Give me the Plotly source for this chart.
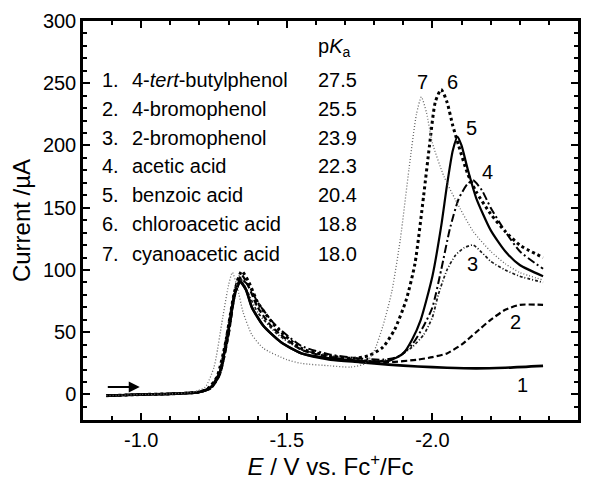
import plotly.graph_objects as go

# ---------------- data ----------------
names = ["4-<i>tert</i>-butylphenol", "4-bromophenol", "2-bromophenol", "acetic acid",
         "benzoic acid", "chloroacetic acid", "cyanoacetic acid"]
pka = ["27.5", "25.5", "23.9", "22.3", "20.4", "18.8", "18.0"]

E1 = [-0.88, -1.0, -1.1, -1.2, -1.24, -1.27, -1.30, -1.32, -1.34, -1.36, -1.38, -1.42, -1.48, -1.55, -1.65, -1.75, -1.85, -1.95, -2.05, -2.15, -2.25, -2.38]
I1 = [-1, 0, 0.5, 2, 6, 18, 52, 80, 91, 84, 70, 55, 42, 33, 28, 26, 24, 22.5, 21.5, 21, 21.5, 23]

E2 = [-0.88, -1.0, -1.1, -1.2, -1.24, -1.27, -1.30, -1.32, -1.345, -1.37, -1.40, -1.45, -1.55, -1.65, -1.75, -1.85, -1.95, -2.0, -2.05, -2.1, -2.15, -2.2, -2.25, -2.3, -2.38]
I2 = [-1, 0, 0.5, 2, 5, 16, 48, 78, 96, 86, 70, 54, 36, 30, 27, 26, 28, 30, 33, 40, 50, 60, 68, 72, 72]

E3 = [-0.88, -1.0, -1.1, -1.2, -1.24, -1.27, -1.30, -1.335, -1.36, -1.40, -1.47, -1.55, -1.65, -1.75, -1.82, -1.88, -1.93, -1.97, -2.0, -2.02, -2.05, -2.08, -2.11, -2.14, -2.17, -2.2, -2.25, -2.3, -2.38]
I3 = [-1, 0, 0.5, 2, 6, 20, 58, 95, 85, 66, 48, 36, 31, 28, 27, 30, 38, 48, 62, 80, 100, 112, 118, 120, 114, 107, 100, 95, 90]

E4 = [-0.88, -1.0, -1.1, -1.2, -1.24, -1.27, -1.30, -1.32, -1.34, -1.37, -1.40, -1.46, -1.55, -1.65, -1.75, -1.83, -1.88, -1.93, -1.97, -2.0, -2.03, -2.06, -2.09, -2.12, -2.14, -2.17, -2.2, -2.25, -2.3, -2.38]
I4 = [-1, 0, 0.5, 2, 5, 16, 48, 78, 93, 87, 74, 56, 39, 32, 29, 28, 30, 40, 55, 70, 100, 133, 157, 169, 172, 164, 150, 131, 115, 101]

E5 = [-0.88, -1.0, -1.1, -1.2, -1.24, -1.27, -1.30, -1.32, -1.34, -1.36, -1.38, -1.42, -1.48, -1.55, -1.65, -1.75, -1.85, -1.9, -1.93, -1.96, -2.0, -2.03, -2.05, -2.07, -2.086, -2.1, -2.12, -2.15, -2.2, -2.25, -2.3, -2.38]
I5 = [-1, 0, 0.5, 2, 6, 18, 52, 80, 90, 84, 70, 55, 42, 33, 29, 27, 27, 33, 44, 60, 95, 135, 168, 196, 207, 200, 182, 158, 132, 115, 104, 95]

E6 = [-0.88, -1.0, -1.1, -1.2, -1.23, -1.26, -1.29, -1.32, -1.345, -1.37, -1.40, -1.46, -1.55, -1.65, -1.72, -1.78, -1.83, -1.87, -1.91, -1.94, -1.97, -1.99, -2.01, -2.03, -2.05, -2.07, -2.09, -2.12, -2.15, -2.2, -2.25, -2.3, -2.38]
I6 = [-1, 0, 0.5, 2, 5, 14, 42, 82, 99, 90, 74, 55, 37, 31, 29, 31, 38, 52, 76, 105, 160, 200, 235, 245, 235, 216, 200, 178, 163, 145, 131, 120, 110]

E7 = [-0.88, -1.0, -1.1, -1.18, -1.22, -1.25, -1.28, -1.30, -1.313, -1.33, -1.35, -1.38, -1.42, -1.5, -1.55, -1.65, -1.72, -1.77, -1.8, -1.83, -1.86, -1.89, -1.92, -1.945, -1.962, -1.98, -2.0, -2.04, -2.08, -2.14, -2.2, -2.25, -2.3, -2.38]
I7 = [-1, 0, 0.5, 2, 6, 22, 62, 88, 98, 86, 66, 48, 37, 28, 25, 23, 22, 25, 35, 55, 82, 125, 182, 225, 239, 226, 202, 175, 156, 131, 115, 105, 98, 92]

curve_labels = ["1", "2", "3", "4", "5", "6", "7"]
label_E = [-2.309, -2.285, -2.137, -2.189, -2.134, -2.069, -1.966]
label_I = [8, 58, 105, 179, 214, 251, 251]

x_ticks = [-1.0, -1.5, -2.0, -2.5]
x_ticktext = ["-1.0", "-1.5", "-2.0", "-2.5"]
y_ticks = [0, 50, 100, 150, 200, 250, 300]

# ---------------- styles ----------------
styles = [
    dict(color="black", width=2.6, dash="solid"),
    dict(color="black", width=2.2, dash="6px,3px"),
    dict(color="#1a1a1a", width=1.7, dash="3px,2px,1px,2px"),
    dict(color="black", width=2.0, dash="8px,3px,2px,3px"),
    dict(color="black", width=2.2, dash="solid"),
    dict(color="black", width=3.0, dash="3px,3px"),
    dict(color="#666666", width=1.3, dash="1px,2px"),
]

FONT = "Liberation Sans, Arial, Helvetica, sans-serif"
OFF = 8  # page body margin

fig = go.Figure()
series = [(E1, I1), (E2, I2), (E3, I3), (E4, I4), (E5, I5), (E6, I6), (E7, I7)]
for k, (e, i) in enumerate(series):
    fig.add_trace(go.Scatter(x=e, y=i, mode="lines", line=dict(shape="spline", smoothing=0.6, **styles[k]),
                             name=curve_labels[k], showlegend=False, hoverinfo="skip"))

# curve number labels
for t, xe, yi in zip(curve_labels, label_E, label_I):
    fig.add_annotation(x=xe, y=yi, text=t, showarrow=False, xref="x", yref="y",
                       font=dict(size=20, color="black", family=FONT))

# legend-like text table (positions given in reference-picture pixels)
L, T, W, H = 83, 21, 495, 399
def px(xp):
    return (xp - L) / W
def py(yp):
    return (T + H - yp) / H

rows_y = [80, 109, 138, 166, 195, 224, 254]
for k in range(7):
    fig.add_annotation(x=px(100), y=py(rows_y[k]), xref="paper", yref="paper", text=f"{k+1}.",
                       showarrow=False, xanchor="left", yanchor="middle",
                       font=dict(size=20, color="black", family=FONT))
    fig.add_annotation(x=px(130), y=py(rows_y[k]), xref="paper", yref="paper", text=names[k],
                       showarrow=False, xanchor="left", yanchor="middle",
                       font=dict(size=20, color="black", family=FONT))
    fig.add_annotation(x=px(316), y=py(rows_y[k]), xref="paper", yref="paper", text=pka[k],
                       showarrow=False, xanchor="left", yanchor="middle",
                       font=dict(size=20, color="black", family=FONT))
fig.add_annotation(x=px(316), y=py(47), xref="paper", yref="paper", text="p<i>K</i><sub>a</sub>",
                   showarrow=False, xanchor="left", yanchor="middle",
                   font=dict(size=20, color="black", family=FONT))

# scan direction arrow
fig.add_annotation(x=-0.995, y=6, ax=-0.88, ay=6, xref="x", yref="y", axref="x", ayref="y",
                   text="", showarrow=True, arrowhead=2, arrowsize=1.1, arrowwidth=2, arrowcolor="black")

axis_common = dict(showline=True, linecolor="black", linewidth=2.5, mirror="allticks",
                   ticks="inside", ticklen=7, tickwidth=2, tickcolor="black",
                   showgrid=False, zeroline=False,
                   tickfont=dict(size=20, color="black", family=FONT))

fig.update_xaxes(range=[-0.8, -2.5], tickvals=x_ticks, ticktext=x_ticktext,
                 minor=dict(dtick=0.1, ticks="inside", ticklen=4, tickwidth=2, tickcolor="black", showgrid=False),
                 title=dict(text="<i>E</i> / V vs. Fc<sup>+</sup>/Fc", font=dict(size=24, color="black", family=FONT), standoff=4),
                 **axis_common)
fig.update_yaxes(range=[-20.5, 300], tickvals=y_ticks,
                 minor=dict(dtick=10, ticks="inside", ticklen=4, tickwidth=2, tickcolor="black", showgrid=False),
                 title=dict(text="Current /µA", font=dict(size=24, color="black", family=FONT), standoff=14),
                 **axis_common)

fig.update_layout(width=594 - OFF, height=480 - OFF,
                  margin=dict(l=83 - OFF, r=16, t=21 - OFF, b=60, autoexpand=False),
                  plot_bgcolor="white", paper_bgcolor="white", font=dict(family=FONT, color="black"))

fig.write_html("out.html")
